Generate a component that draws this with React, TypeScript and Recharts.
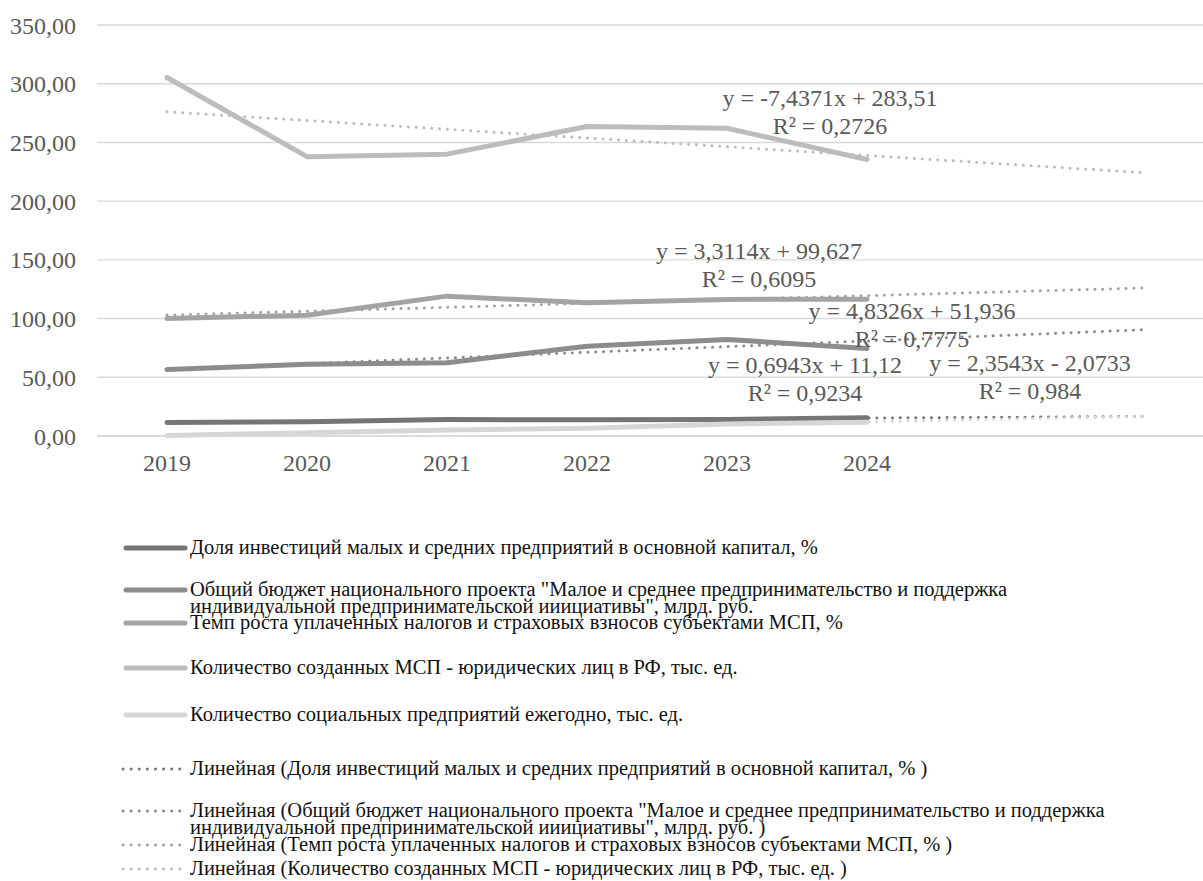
import React from 'react';
import { LineChart, Line, XAxis, YAxis, CartesianGrid, ReferenceDot } from 'recharts';

const years = ['2019', '2020', '2021', '2022', '2023', '2024', '2025', '2026'];
const yearLabels = ['2019', '2020', '2021', '2022', '2023', '2024', '', ''];
const yTicks = [0, 50, 100, 150, 200, 250, 300, 350];

// Series values (2019–2024)
const investShare = [11.6, 12.2, 14.0, 13.8, 14.1, 15.6];
const projectBudget = [56.6, 61.1, 62.3, 76.5, 82.2, 74.5];
const taxGrowth = [100.1, 102.9, 119.1, 113.4, 116.3, 116.5];
const smeCreated = [305.3, 237.9, 240.0, 263.5, 262.1, 235.5];
const socialEnterprises = [0.5, 2.8, 5.2, 6.6, 10.2, 11.7];

// Linear trend lines: value at 2019 and at 2026 (forecast end)
const trendInvest = [11.81, 16.67];
const trendBudget = [56.77, 90.59];
const trendTax = [102.94, 126.12];
const trendSme = [276.07, 224.01];
const trendSocial = [0.28, 16.76];

const seriesNames = [
  'Доля инвестиций малых и средних предприятий в основной капитал, %',
  'Общий бюджет национального проекта "Малое и среднее предпринимательство и поддержка индивидуальной предпринимательской ииициативы", млрд. руб.',
  'Темп роста уплаченных налогов и страховых взносов субъектами МСП, %',
  'Количество созданных МСП - юридических лиц в РФ, тыс. ед.',
  'Количество социальных предприятий ежегодно, тыс. ед.',
];

const colors = ['#767676', '#8c8c8c', '#a3a3a3', '#bcbcbc', '#d6d6d6'];

// Trend equation labels
const equations = [
  { lines: ['y = -7,4371x + 283,51', 'R² = 0,2726'], x: '2024', y: 288.0, dx: -37 },
  { lines: ['y = 3,3114x + 99,627', 'R² = 0,6095'], x: '2023', y: 157.5, dx: 32 },
  { lines: ['y = 4,8326x + 51,936', 'R² = 0,7775'], x: '2024', y: 107.2, dx: 45 },
  { lines: ['y = 0,6943x + 11,12', 'R² = 0,9234'], x: '2024', y: 61.1, dx: -62 },
  { lines: ['y = 2,3543x - 2,0733', 'R² = 0,984'], x: '2025', y: 62.9, dx: 23 },
];

const legendItems = [
  { lines: ['Доля инвестиций малых и средних предприятий в основной капитал, %'], color: colors[0], dotted: false, y: 548 },
  { lines: ['Общий бюджет национального проекта "Малое и среднее предпринимательство и поддержка', 'индивидуальной предпринимательской ииициативы", млрд. руб.'], color: colors[1], dotted: false, y: 590 },
  { lines: ['Темп роста уплаченных налогов и страховых взносов субъектами МСП, %'], color: colors[2], dotted: false, y: 623 },
  { lines: ['Количество созданных МСП - юридических лиц в РФ, тыс. ед.'], color: colors[3], dotted: false, y: 668 },
  { lines: ['Количество социальных предприятий ежегодно, тыс. ед.'], color: colors[4], dotted: false, y: 715 },
  { lines: ['Линейная (Доля инвестиций малых и средних предприятий в основной капитал, % )'], color: colors[0], dotted: true, y: 769 },
  { lines: ['Линейная (Общий бюджет национального проекта "Малое и среднее предпринимательство и поддержка', 'индивидуальной предпринимательской ииициативы", млрд. руб. )'], color: colors[1], dotted: true, y: 811 },
  { lines: ['Линейная (Темп роста уплаченных налогов и страховых взносов субъектами МСП, % )'], color: colors[2], dotted: true, y: 845 },
  { lines: ['Линейная (Количество созданных МСП - юридических лиц в РФ, тыс. ед. )'], color: colors[3], dotted: true, y: 869 },
];

const FONT = '"Liberation Serif", "DejaVu Serif", "Noto Serif", "Times New Roman", Times, serif';

const trendAt = (t: number[], i: number) => (i === 0 ? t[0] : i === years.length - 1 ? t[1] : null);

const data = years.map((year, i) => ({
  year,
  s1: investShare[i] ?? null,
  s2: projectBudget[i] ?? null,
  s3: taxGrowth[i] ?? null,
  s4: smeCreated[i] ?? null,
  s5: socialEnterprises[i] ?? null,
  t1: trendAt(trendInvest, i),
  t2: trendAt(trendBudget, i),
  t3: trendAt(trendTax, i),
  t4: trendAt(trendSme, i),
  t5: trendAt(trendSocial, i),
}));

const fmt = (v: number) => v.toFixed(2).replace('.', ',');

const eqLabel = (lines: string[], dx: number) => (props: any) => {
  const vb = props.viewBox || {};
  const cx = (vb.x ?? 0) + (vb.width ?? 0) / 2 + dx;
  const cy = (vb.y ?? 0) + (vb.height ?? 0) / 2;
  return (
    <text x={cx} y={cy} textAnchor="middle" fontSize={24} fill="#595959" style={{ fontFamily: FONT }}>
      {lines.map((l, i) => (
        <tspan key={i} x={cx} dy={i === 0 ? '0.35em' : 28}>
          {l}
        </tspan>
      ))}
    </text>
  );
};

function LegendIcon({ color, dotted }: { color: string; dotted: boolean }) {
  return (
    <svg width={72} height={20} style={{ position: 'absolute', left: 116, top: 0 }}>
      {dotted ? (
        <line x1={7} y1={10} x2={64} y2={10} stroke={color} strokeWidth={3} strokeDasharray="0.1 8" strokeLinecap="round" />
      ) : (
        <line x1={10} y1={10} x2={69} y2={10} stroke={color} strokeWidth={5} strokeLinecap="round" />
      )}
    </svg>
  );
}

export default function App() {
  const series = [
    { key: 's1', color: colors[0] },
    { key: 's2', color: colors[1] },
    { key: 's3', color: colors[2] },
    { key: 's4', color: colors[3] },
    { key: 's5', color: colors[4] },
  ];
  const trends = [
    { key: 't1', color: colors[0] },
    { key: 't2', color: colors[1] },
    { key: 't3', color: colors[2] },
    { key: 't4', color: colors[3] },
    { key: 't5', color: colors[4] },
  ];
  return (
    <div
      style={{
        position: 'absolute',
        left: 0,
        top: 0,
        width: 1203,
        height: 881,
        overflow: 'hidden',
        background: '#ffffff',
        fontFamily: FONT,
      }}
    >
      <style>{`.recharts-text, .recharts-cartesian-axis-tick-value { font-family: ${FONT}; }`}</style>
      <LineChart width={1230} height={500} data={data} margin={{ top: 25, right: 13, left: 0, bottom: 0 }} style={{ fontFamily: FONT }}>
        <CartesianGrid vertical={false} stroke="#d9d9d9" strokeWidth={1.4} />
        <XAxis
          dataKey="year"
          height={64}
          padding={{ left: 70, right: 70 }}
          tickLine={false}
          tickSize={0}
          tickMargin={18}
          axisLine={{ stroke: '#d9d9d9', strokeWidth: 1.4 }}
          interval={0}
          tickFormatter={(v: string) => yearLabels[years.indexOf(v)] ?? ''}
          tick={{ fontSize: 24, fill: '#595959' }}
        />
        <YAxis
          width={97}
          domain={[0, 350]}
          ticks={yTicks}
          axisLine={false}
          tickLine={false}
          tickSize={0}
          tickMargin={21}
          tickFormatter={fmt}
          tick={{ fontSize: 24, fill: '#595959' }}
        />
        {series.map((s, i) => (
          <Line
            key={s.key}
            name={seriesNames[i]}
            type="linear"
            dataKey={s.key}
            stroke={s.color}
            strokeWidth={5}
            strokeLinecap="round"
            strokeLinejoin="round"
            dot={false}
            activeDot={false}
            isAnimationActive={false}
          />
        ))}
        {trends.map((t) => (
          <Line
            key={t.key}
            type="linear"
            dataKey={t.key}
            stroke={t.color}
            strokeWidth={3}
            strokeDasharray="0.1 7.7"
            strokeLinecap="round"
            dot={false}
            activeDot={false}
            connectNulls
            isAnimationActive={false}
          />
        ))}
        {equations.map((e, i) => (
          <ReferenceDot
            key={i}
            x={e.x}
            y={e.y}
            r={0}
            fill="none"
            stroke="none"
            ifOverflow="visible"
            label={eqLabel(e.lines, e.dx)}
          />
        ))}
      </LineChart>
      {legendItems.map((item, i) => (
        <div key={i} style={{ position: 'absolute', left: 0, top: item.y - 10, width: 1203 }}>
          <LegendIcon color={item.color} dotted={item.dotted} />
          <div
            style={{
              position: 'absolute',
              left: 190,
              top: 0,
              fontSize: 20.5,
              lineHeight: '17px',
              paddingTop: 1,
              color: '#111111',
              whiteSpace: 'nowrap',
              fontFamily: FONT,
            }}
          >
            {item.lines.map((l, j) => (
              <div key={j}>{l}</div>
            ))}
          </div>
        </div>
      ))}
    </div>
  );
}
